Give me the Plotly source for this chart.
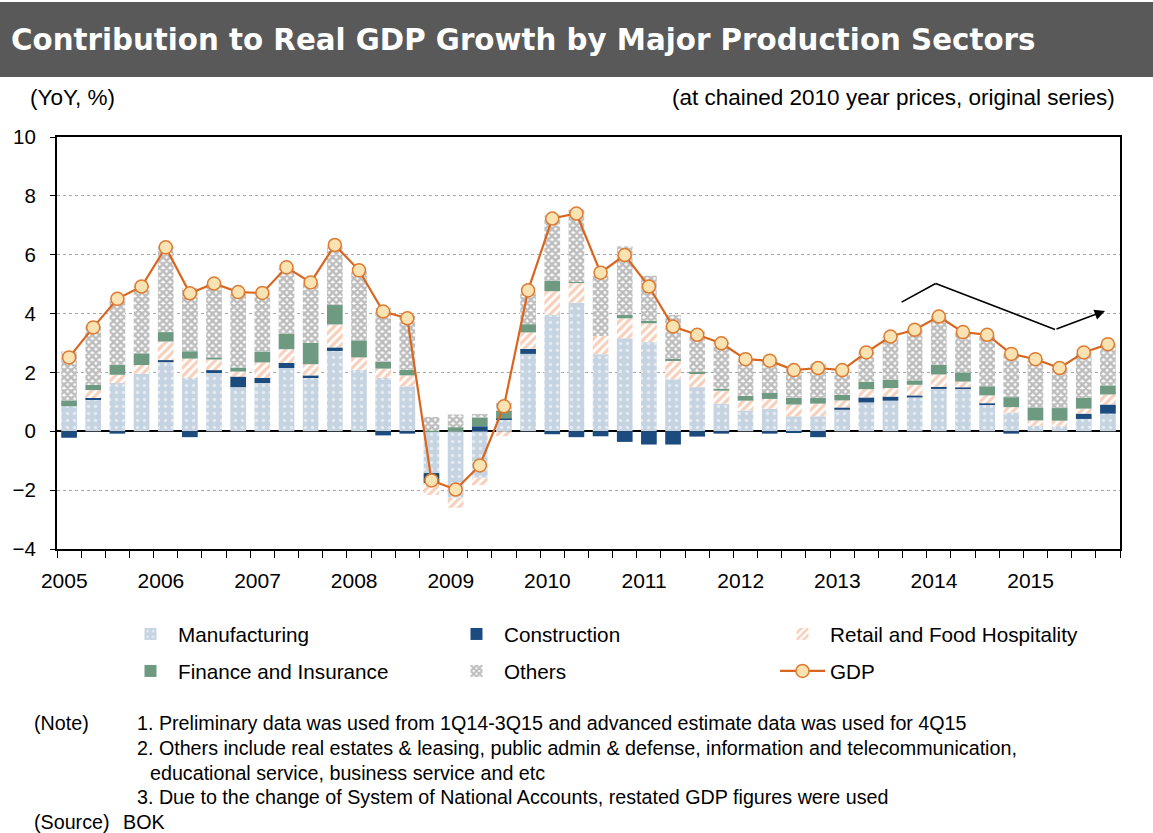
import plotly.graph_objects as go

quarters = [f"{y}Q{q}" for y in range(2005, 2016) for q in range(1, 5)]
years = [str(y) for y in range(2005, 2016)]

manufacturing = [0.85, 1.07, 1.64, 1.95, 2.35, 1.81, 1.98, 1.50, 1.64, 2.15, 1.84, 2.73,
                 2.09, 1.81, 1.53, -1.42, -2.26, -1.58, 0.40, 2.63, 3.95, 4.37, 2.62, 3.16,
                 3.03, 1.77, 1.50, 0.94, 0.71, 0.77, 0.51, 0.51, 0.73, 0.98, 1.04, 1.15,
                 1.44, 1.47, 0.90, 0.64, 0.19, 0.17, 0.42, 0.60]
construction = [-0.22, 0.06, -0.08, 0.0, 0.07, -0.20, 0.10, 0.36, 0.17, 0.17, 0.06, 0.12,
                0.0, -0.14, -0.08, -0.34, 0.0, 0.17, 0.03, 0.17, -0.10, -0.20, -0.17, -0.36,
                -0.45, -0.45, -0.18, -0.08, 0.0, -0.08, -0.06, -0.20, 0.08, 0.17, 0.14, 0.07,
                0.07, 0.02, 0.05, -0.08, 0.0, 0.0, 0.18, 0.31]
retail = [0.0, 0.27, 0.28, 0.30, 0.63, 0.66, 0.36, 0.17, 0.53, 0.47, 0.38, 0.78,
          0.42, 0.32, 0.37, -0.40, -0.34, -0.25, -0.17, 0.56, 0.81, 0.67, 0.62, 0.68,
          0.64, 0.63, 0.47, 0.44, 0.33, 0.33, 0.40, 0.43, 0.24, 0.28, 0.29, 0.36,
          0.42, 0.20, 0.27, 0.18, 0.18, 0.19, 0.17, 0.34]
finance = [0.20, 0.18, 0.34, 0.40, 0.32, 0.25, 0.07, 0.14, 0.37, 0.52, 0.73, 0.66,
           0.58, 0.23, 0.19, 0.02, 0.14, 0.30, 0.27, 0.28, 0.36, 0.03, 0.0, 0.11,
           0.09, 0.06, 0.06, 0.07, 0.17, 0.20, 0.23, 0.19, 0.19, 0.26, 0.28, 0.15,
           0.33, 0.31, 0.31, 0.34, 0.44, 0.43, 0.36, 0.31]
others = [1.66, 1.98, 2.26, 2.29, 2.90, 2.15, 2.49, 2.52, 1.98, 2.23, 2.01, 2.01,
          2.36, 1.83, 1.84, 0.47, 0.43, 0.12, 0.26, 1.10, 2.21, 2.47, 2.07, 2.34,
          1.53, 1.49, 1.36, 1.55, 1.19, 1.16, 1.00, 1.19, 0.79, 1.02, 1.47, 1.72,
          1.65, 1.41, 1.75, 1.52, 1.65, 1.36, 1.53, 1.41]
gdp = [2.51, 3.53, 4.50, 4.92, 6.25, 4.69, 5.02, 4.73, 4.70, 5.57, 5.06, 6.33,
       5.47, 4.07, 3.84, -1.67, -1.98, -1.16, 0.85, 4.79, 7.23, 7.40, 5.39, 5.99,
       4.92, 3.56, 3.28, 2.99, 2.45, 2.40, 2.08, 2.15, 2.08, 2.68, 3.22, 3.45,
       3.90, 3.37, 3.28, 2.63, 2.45, 2.15, 2.68, 2.96]

x = list(range(len(quarters)))
FONT = "Liberation Sans, Arial, sans-serif"

# pixel -> paper helpers (plot area 57..1120 x 137..549)
L, R, T, B = 57, 1120, 137, 549
def px(v):
    return (v - L) / (R - L)
def py(v):
    return (B - v) / (B - T)

fig = go.Figure()
fig.add_trace(go.Bar(x=x, y=manufacturing, name="Manufacturing", width=0.65,
                     marker=dict(color="#c6d4e2", line=dict(width=0),
                                 pattern=dict(shape=".", fgcolor="#ffffff", size=7, solidity=0.2)),
                     legend="legend"))
fig.add_trace(go.Bar(x=x, y=construction, name="Construction", width=0.65,
                     marker=dict(color="#1b4b7f", line=dict(width=0)), legend="legend"))
fig.add_trace(go.Bar(x=x, y=retail, name="Retail and Food Hospitality", width=0.65,
                     marker=dict(color="#ffffff", line=dict(width=0),
                                 pattern=dict(shape="/", fgcolor="#f0a27a", size=6, solidity=0.55)),
                     legend="legend"))
fig.add_trace(go.Bar(x=x, y=finance, name="Finance and Insurance", width=0.65,
                     marker=dict(color="#6e9a82", line=dict(width=0)), legend="legend2"))
fig.add_trace(go.Bar(x=x, y=others, name="Others", width=0.65,
                     marker=dict(color="#ffffff", line=dict(width=0),
                                 pattern=dict(shape="x", fgcolor="#7c7c7c", size=5, solidity=0.75)),
                     legend="legend2"))
fig.add_trace(go.Scatter(x=x, y=gdp, name="GDP", mode="lines+markers",
                         line=dict(color="#d9661f", width=2.2),
                         marker=dict(size=13, color="#f9e3b3", line=dict(color="#e07a2e", width=1.5)),
                         legend="legend2"))

# Title banner
fig.add_shape(type="rect", xref="paper", yref="paper", x0=px(-5), x1=px(1160),
              y0=py(77), y1=py(2), fillcolor="#595959", line=dict(width=0), layer="below")

NOTE_FONT = dict(size=19.7, color="black", family=FONT)
annotations = [
    dict(text="Contribution to Real GDP Growth by Major Production Sectors", x=px(9), y=py(40),
         xanchor="left", yanchor="middle",
         font=dict(size=29.3, color="white", family="DejaVu Sans, sans-serif", weight="bold")),
    dict(text="(YoY, %)", x=px(28), y=py(97), xanchor="left", yanchor="middle",
         font=dict(size=22.5, color="black", family=FONT)),
    dict(text="(at chained 2010 year prices, original series)", x=px(1117), y=py(97),
         xanchor="right", yanchor="middle", font=dict(size=22.5, color="black", family=FONT)),
    dict(text="(Note)", x=px(32), y=py(723), xanchor="left", yanchor="middle"),
    dict(text="1. Preliminary data was used from 1Q14-3Q15 and advanced estimate data was used for 4Q15",
         x=px(135), y=py(723), xanchor="left", yanchor="middle"),
    dict(text="2. Others include real estates & leasing, public admin & defense, information and telecommunication,",
         x=px(135), y=py(748), xanchor="left", yanchor="middle"),
    dict(text="educational service, business service and etc", x=px(148), y=py(773),
         xanchor="left", yanchor="middle"),
    dict(text="3. Due to the change of System of National Accounts, restated GDP figures were used",
         x=px(135), y=py(797), xanchor="left", yanchor="middle"),
    dict(text="(Source)", x=px(32), y=py(822), xanchor="left", yanchor="middle"),
    dict(text="BOK", x=px(121), y=py(822), xanchor="left", yanchor="middle"),
]
for a in annotations:
    a.setdefault("font", NOTE_FONT)
    a.update(xref="paper", yref="paper", showarrow=False)

# Trend arrow (annotation)
trend_x = [34.46, 35.87, 40.81]
trend_y = [4.39, 5.02, 3.46]
for i in range(2):
    fig.add_shape(type="line", xref="x", yref="y", x0=trend_x[i], y0=trend_y[i],
                  x1=trend_x[i + 1], y1=trend_y[i + 1], line=dict(color="black", width=1.6))
annotations.append(dict(x=42.88, y=4.09, ax=trend_x[2], ay=trend_y[2], xref="x", yref="y",
                        axref="x", ayref="y", showarrow=True, arrowhead=2, arrowsize=1.3,
                        arrowwidth=1.6, arrowcolor="black", text=""))

LEG_FONT = dict(size=20.7, family=FONT, color="black")
fig.update_layout(
    width=1153, height=833,
    margin=dict(l=L, r=1153 - R, t=T, b=833 - B),
    paper_bgcolor="white", plot_bgcolor="white",
    barmode="relative",
    font=dict(family=FONT, size=18, color="black"),
    annotations=annotations,
    showlegend=True,
    legend=dict(orientation="h", x=px(123), y=py(614), xanchor="left", yanchor="top",
                entrywidth=266, entrywidthmode="pixels", itemwidth=45,
                font=LEG_FONT, traceorder="normal", bgcolor="rgba(0,0,0,0)"),
    legend2=dict(orientation="h", x=px(123), y=py(651), xanchor="left", yanchor="top",
                 entrywidth=266, entrywidthmode="pixels", itemwidth=45,
                 font=LEG_FONT, traceorder="normal", bgcolor="rgba(0,0,0,0)"),
)

fig.update_xaxes(range=[-0.5, len(quarters) - 0.5],
                 tickvals=[4 * i - 0.2 for i in range(len(years))], ticktext=years,
                 ticks="", showgrid=False, zeroline=False,
                 tickfont=dict(size=21, family=FONT, color="black"), ticklabelstandoff=12,
                 minor=dict(tickvals=[i - 0.5 for i in range(len(quarters) + 1)], ticks="outside",
                            ticklen=7, tickcolor="black", tickwidth=1, showgrid=False),
                 showline=True, mirror=True, linecolor="black", linewidth=2)
fig.update_yaxes(range=[-4, 10], dtick=2, ticks="outside", ticklen=5, tickcolor="black",
                 tickfont=dict(size=20.5, family=FONT, color="black"), ticklabelstandoff=10,
                 showgrid=True, gridcolor="#a8a8a8", griddash="dot", gridwidth=1,
                 zeroline=True, zerolinecolor="black", zerolinewidth=1.6,
                 showline=True, mirror=True, linecolor="black", linewidth=2)

fig.write_html("out.html", config={"displayModeBar": False},
               post_script="document.body.style.margin='0';")
